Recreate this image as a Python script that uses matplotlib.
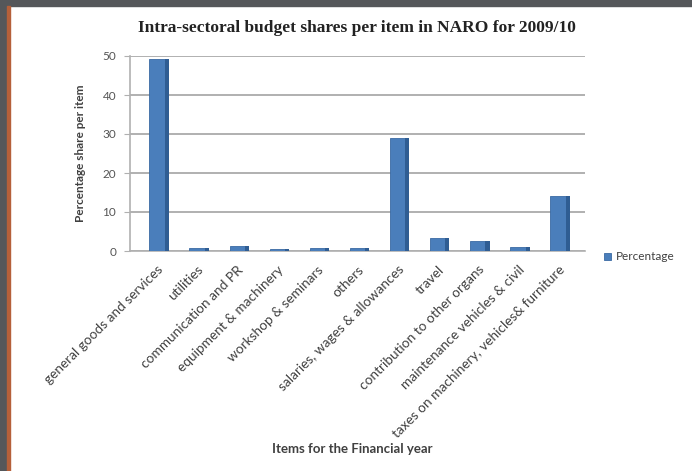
import numpy as np
import matplotlib.pyplot as plt
from matplotlib.patches import Rectangle

# values
items = [
    'general goods and services',
    'utilities',
    'communication and PR',
    'equipment & machinery',
    'workshop & seminars',
    'others',
    'salaries, wages & allowances',
    'travel',
    'contribution to other organs',
    'maintenance vehicles & civil',
    'taxes on machinery, vehicles& furniture',
]
percentage = [49.3, 0.7, 1.2, 0.5, 0.7, 0.8, 29.0, 3.3, 2.6, 1.1, 14.0]
y_ticks = [0, 10, 20, 30, 40, 50]

face = '#4a7ebb'
side = '#2f5d93'
grid_col = '#b0b0b0'
text_col = '#404040'

fig = plt.figure(figsize=(6.92, 4.71), dpi=100)
fig.patch.set_facecolor('white')

# dark frame from the screenshot
fig.patches.append(Rectangle((0, 1 - 6 / 471), 1, 6 / 471, transform=fig.transFigure,
                             color='#55575a', zorder=0))
fig.patches.append(Rectangle((0, 0), 7 / 692, 1, transform=fig.transFigure,
                             color='#55575a', zorder=0))
fig.patches.append(Rectangle((7 / 692, 0), 2.5 / 692, 1 - 6 / 471, transform=fig.transFigure,
                             color='#b5603a', zorder=0))

ax = fig.add_axes([130 / 692, 1 - 251 / 471, 455 / 692, 195 / 471])

x = np.arange(len(items))
w = 0.38
d = 0.1
ax.bar(x, percentage, width=w, color=face, edgecolor='#3a6aa3', linewidth=0.6, zorder=3,
       label='Percentage')
ax.bar(x + w / 2 + d / 2, percentage, width=d, color=side, linewidth=0, zorder=3)

ax.set_xlim(-0.67, 10.67)
ax.set_ylim(0, 50)
ax.set_yticks(y_ticks)
ax.yaxis.grid(True, color=grid_col, linewidth=1.4, zorder=0)
ax.set_axisbelow(True)

for s in ['top', 'right']:
    ax.spines[s].set_visible(False)
ax.spines['left'].set_color(grid_col)
ax.spines['bottom'].set_color(grid_col)
ax.spines['left'].set_linewidth(1.2)
ax.spines['bottom'].set_linewidth(1.2)

ax.tick_params(axis='y', colors=grid_col, labelcolor='#555555', labelsize=8.5, length=4, pad=6)
ax.tick_params(axis='x', length=0, pad=9)
ax.set_xticks(x)
ax.set_xticklabels(items, rotation=45, ha='right', rotation_mode='anchor',
                   fontsize=9.8, color=text_col, family='Lato')
for lbl in ax.get_yticklabels():
    lbl.set_family('Lato')

ax.set_ylabel('Percentage share per item', fontsize=8.5, fontweight='bold', color=text_col,
              family='Lato', labelpad=12)

fig.text(352 / 692, 1 - 449 / 471, 'Items for the Financial year', ha='center', va='center',
         fontsize=9.5, fontweight='bold', color=text_col, family='Lato')

fig.text(357 / 692, 1 - 28 / 471, 'Intra-sectoral budget shares per item in NARO for 2009/10',
         ha='center', va='center', fontsize=12.5, fontweight='bold', color='#222222',
         family='Liberation Serif')

leg = ax.legend(loc='center left', bbox_to_anchor=(602 / 692, 1 - 257 / 471),
                bbox_transform=fig.transFigure, frameon=False, borderaxespad=0,
                borderpad=0.2, handlelength=0.6, handleheight=0.6, handletextpad=0.4,
                prop={'family': 'Lato', 'size': 8.5})
for t in leg.get_texts():
    t.set_color(text_col)

fig.savefig('out.png', dpi=100)
